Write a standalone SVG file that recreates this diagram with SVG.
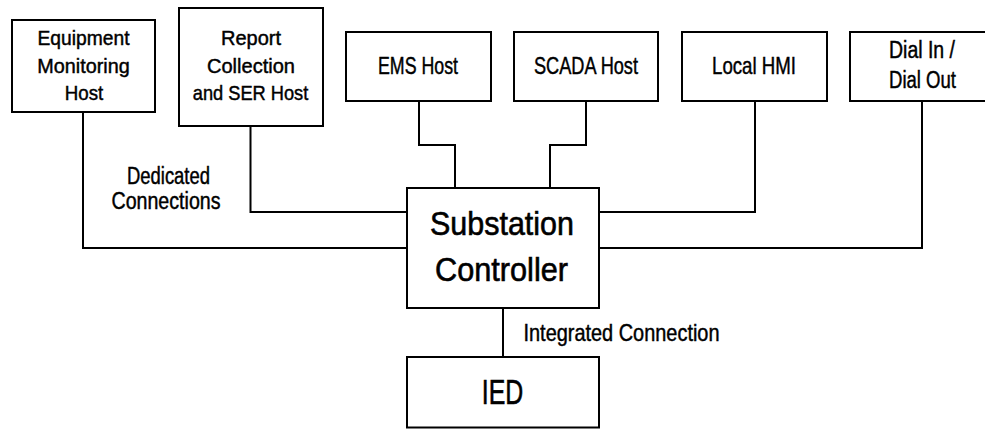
<svg xmlns="http://www.w3.org/2000/svg" width="985" height="429" viewBox="0 0 985 429">
  <style>
    .box { fill: #ffffff; stroke: #000000; stroke-width: 2; }
    .wire { fill: none; stroke: #000000; stroke-width: 2; }
    text { font-family: "Liberation Sans", Arial, sans-serif; fill: #000000; stroke: #000000; stroke-width: 0.45; text-anchor: middle; }
    .s21 { font-size: 21px; }
    .s23 { font-size: 23px; }
    .s24 { font-size: 24px; }
    .big { font-size: 32.5px; stroke-width: 0.6; }
    .ied { font-size: 35px; stroke-width: 0.6; }
  </style>
  <rect width="985" height="429" fill="#ffffff"/>

  <!-- connectors -->
  <g id="connectors">
    <path class="wire" d="M83,112 V248 H407"/>
    <path class="wire" d="M250.5,126 V212 H407"/>
    <path class="wire" d="M419,101 V145 H455 V188"/>
    <path class="wire" d="M586,101 V145 H550 V188"/>
    <path class="wire" d="M755,101 V212 H599"/>
    <path class="wire" d="M922,101 V248 H599"/>
    <path class="wire" d="M503,308 V357"/>
  </g>

  <g id="equipment-monitoring-host">
    <rect class="box" x="12" y="20" width="143" height="92"/>
    <text class="s21" x="83.5" y="44.5" textLength="92" lengthAdjust="spacingAndGlyphs">Equipment</text>
    <text class="s21" x="83.5" y="72.5" textLength="92.5" lengthAdjust="spacingAndGlyphs">Monitoring</text>
    <text class="s21" x="84" y="99.5" textLength="38.5" lengthAdjust="spacingAndGlyphs">Host</text>
  </g>

  <g id="report-collection-host">
    <rect class="box" x="179" y="8" width="144" height="118"/>
    <text class="s21" x="251" y="44.5" textLength="60" lengthAdjust="spacingAndGlyphs">Report</text>
    <text class="s21" x="251" y="72.5" textLength="88" lengthAdjust="spacingAndGlyphs">Collection</text>
    <text class="s21" x="250.5" y="99.5" textLength="115.5" lengthAdjust="spacingAndGlyphs">and SER Host</text>
  </g>

  <g id="ems-host">
    <rect class="box" x="346" y="32" width="145" height="69"/>
    <text class="s24" x="418" y="74" textLength="80" lengthAdjust="spacingAndGlyphs">EMS Host</text>
  </g>

  <g id="scada-host">
    <rect class="box" x="514" y="32" width="144" height="69"/>
    <text class="s24" x="586" y="74" textLength="104" lengthAdjust="spacingAndGlyphs">SCADA Host</text>
  </g>

  <g id="local-hmi">
    <rect class="box" x="682" y="32" width="145" height="69"/>
    <text class="s24" x="754" y="74" textLength="84" lengthAdjust="spacingAndGlyphs">Local HMI</text>
  </g>

  <g id="dial-in-out">
    <rect class="box" x="850" y="32" width="150" height="69"/>
    <text class="s23" x="922" y="57.5" textLength="66" lengthAdjust="spacingAndGlyphs">Dial In /</text>
    <text class="s23" x="922.5" y="87.5" textLength="67" lengthAdjust="spacingAndGlyphs">Dial Out</text>
  </g>

  <g id="dedicated-label">
    <text class="s23" x="168.5" y="183.5" textLength="83" lengthAdjust="spacingAndGlyphs">Dedicated</text>
    <text class="s23" x="166" y="208.5" textLength="109" lengthAdjust="spacingAndGlyphs">Connections</text>
  </g>

  <g id="substation-controller">
    <rect class="box" x="407" y="188" width="192" height="120"/>
    <text class="big" x="502" y="235" textLength="144" lengthAdjust="spacingAndGlyphs">Substation</text>
    <text class="big" x="501.5" y="281" textLength="133" lengthAdjust="spacingAndGlyphs">Controller</text>
  </g>

  <g id="integrated-label">
    <text class="s24" x="523.5" y="341" style="text-anchor: start" textLength="196" lengthAdjust="spacingAndGlyphs">Integrated Connection</text>
  </g>

  <g id="ied">
    <rect class="box" x="407" y="357" width="192" height="70.5"/>
    <text class="ied" x="502.5" y="403.5" textLength="41.5" lengthAdjust="spacingAndGlyphs">IED</text>
  </g>
</svg>
